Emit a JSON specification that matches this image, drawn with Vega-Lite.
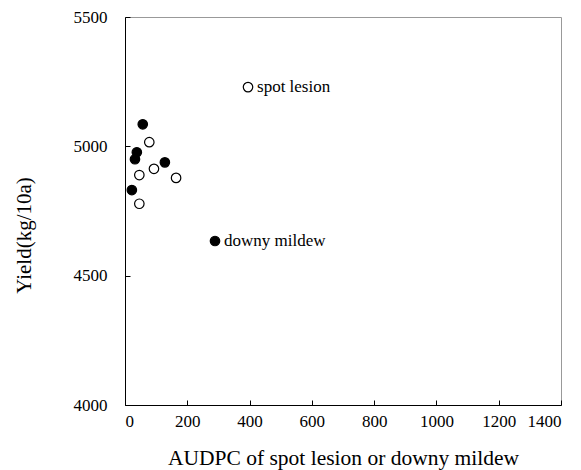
{
  "$schema": "https://vega.github.io/schema/vega-lite/v6.json",
  "autosize": "none",
  "width": 436,
  "height": 388,
  "padding": {"left": 125, "top": 17, "right": 20, "bottom": 65},
  "background": "white",
  "config": {
    "font": "Liberation Serif",
    "view": {"stroke": "#999999", "strokeWidth": 1}
  },
  "data": {
    "values": [
      {"disease": "downy mildew", "audpc": 57, "yield": 5085, "label": ""},
      {"disease": "downy mildew", "audpc": 38, "yield": 4977, "label": ""},
      {"disease": "downy mildew", "audpc": 32, "yield": 4950, "label": ""},
      {"disease": "downy mildew", "audpc": 128, "yield": 4938, "label": ""},
      {"disease": "downy mildew", "audpc": 22, "yield": 4831, "label": ""},
      {"disease": "downy mildew", "audpc": 289, "yield": 4634, "label": "downy mildew"},
      {"disease": "spot lesion", "audpc": 78, "yield": 5016, "label": ""},
      {"disease": "spot lesion", "audpc": 93, "yield": 4913, "label": ""},
      {"disease": "spot lesion", "audpc": 46, "yield": 4889, "label": ""},
      {"disease": "spot lesion", "audpc": 164, "yield": 4878, "label": ""},
      {"disease": "spot lesion", "audpc": 46, "yield": 4778, "label": ""},
      {"disease": "spot lesion", "audpc": 395, "yield": 5229, "label": "spot lesion"}
    ]
  },
  "encoding": {
    "x": {
      "field": "audpc", "type": "quantitative",
      "scale": {"domain": [0, 1400], "nice": false, "zero": false},
      "axis": {
        "title": "AUDPC of spot lesion or downy mildew",
        "values": [0, 200, 400, 600, 800, 1000, 1200, 1400],
        "format": "d",
        "grid": false, "domainColor": "black", "tickColor": "black",
        "tickSize": -5, "labelPadding": 13, "labelFontSize": 17, "labelColor": "black",
        "titleFontSize": 21.5, "titleFontWeight": "normal", "titleColor": "black",
        "titleBaseline": "alphabetic", "titleY": 59
      }
    },
    "y": {
      "field": "yield", "type": "quantitative",
      "scale": {"domain": [4000, 5500], "nice": false, "zero": false},
      "axis": {
        "title": "Yield(kg/10a)",
        "values": [4000, 4500, 5000, 5500],
        "format": "d",
        "grid": false, "domainColor": "black", "tickColor": "black",
        "tickSize": -5, "labelPadding": 23, "labelFontSize": 17, "labelColor": "black",
        "titleFontSize": 21, "titleFontWeight": "normal", "titleColor": "black",
        "titleBaseline": "middle", "titleX": -101, "titleY": 218
      }
    }
  },
  "layer": [
    {
      "mark": {"type": "point", "shape": "circle", "size": 90, "strokeWidth": 1.2, "opacity": 1},
      "encoding": {
        "fill": {
          "field": "disease", "type": "nominal",
          "scale": {"domain": ["downy mildew", "spot lesion"], "range": ["black", "white"]},
          "legend": null
        },
        "stroke": {"value": "black"}
      }
    },
    {
      "mark": {"type": "text", "align": "left", "baseline": "middle", "dx": 9, "fontSize": 17, "color": "black"},
      "encoding": {"text": {"field": "label"}}
    }
  ]
}
